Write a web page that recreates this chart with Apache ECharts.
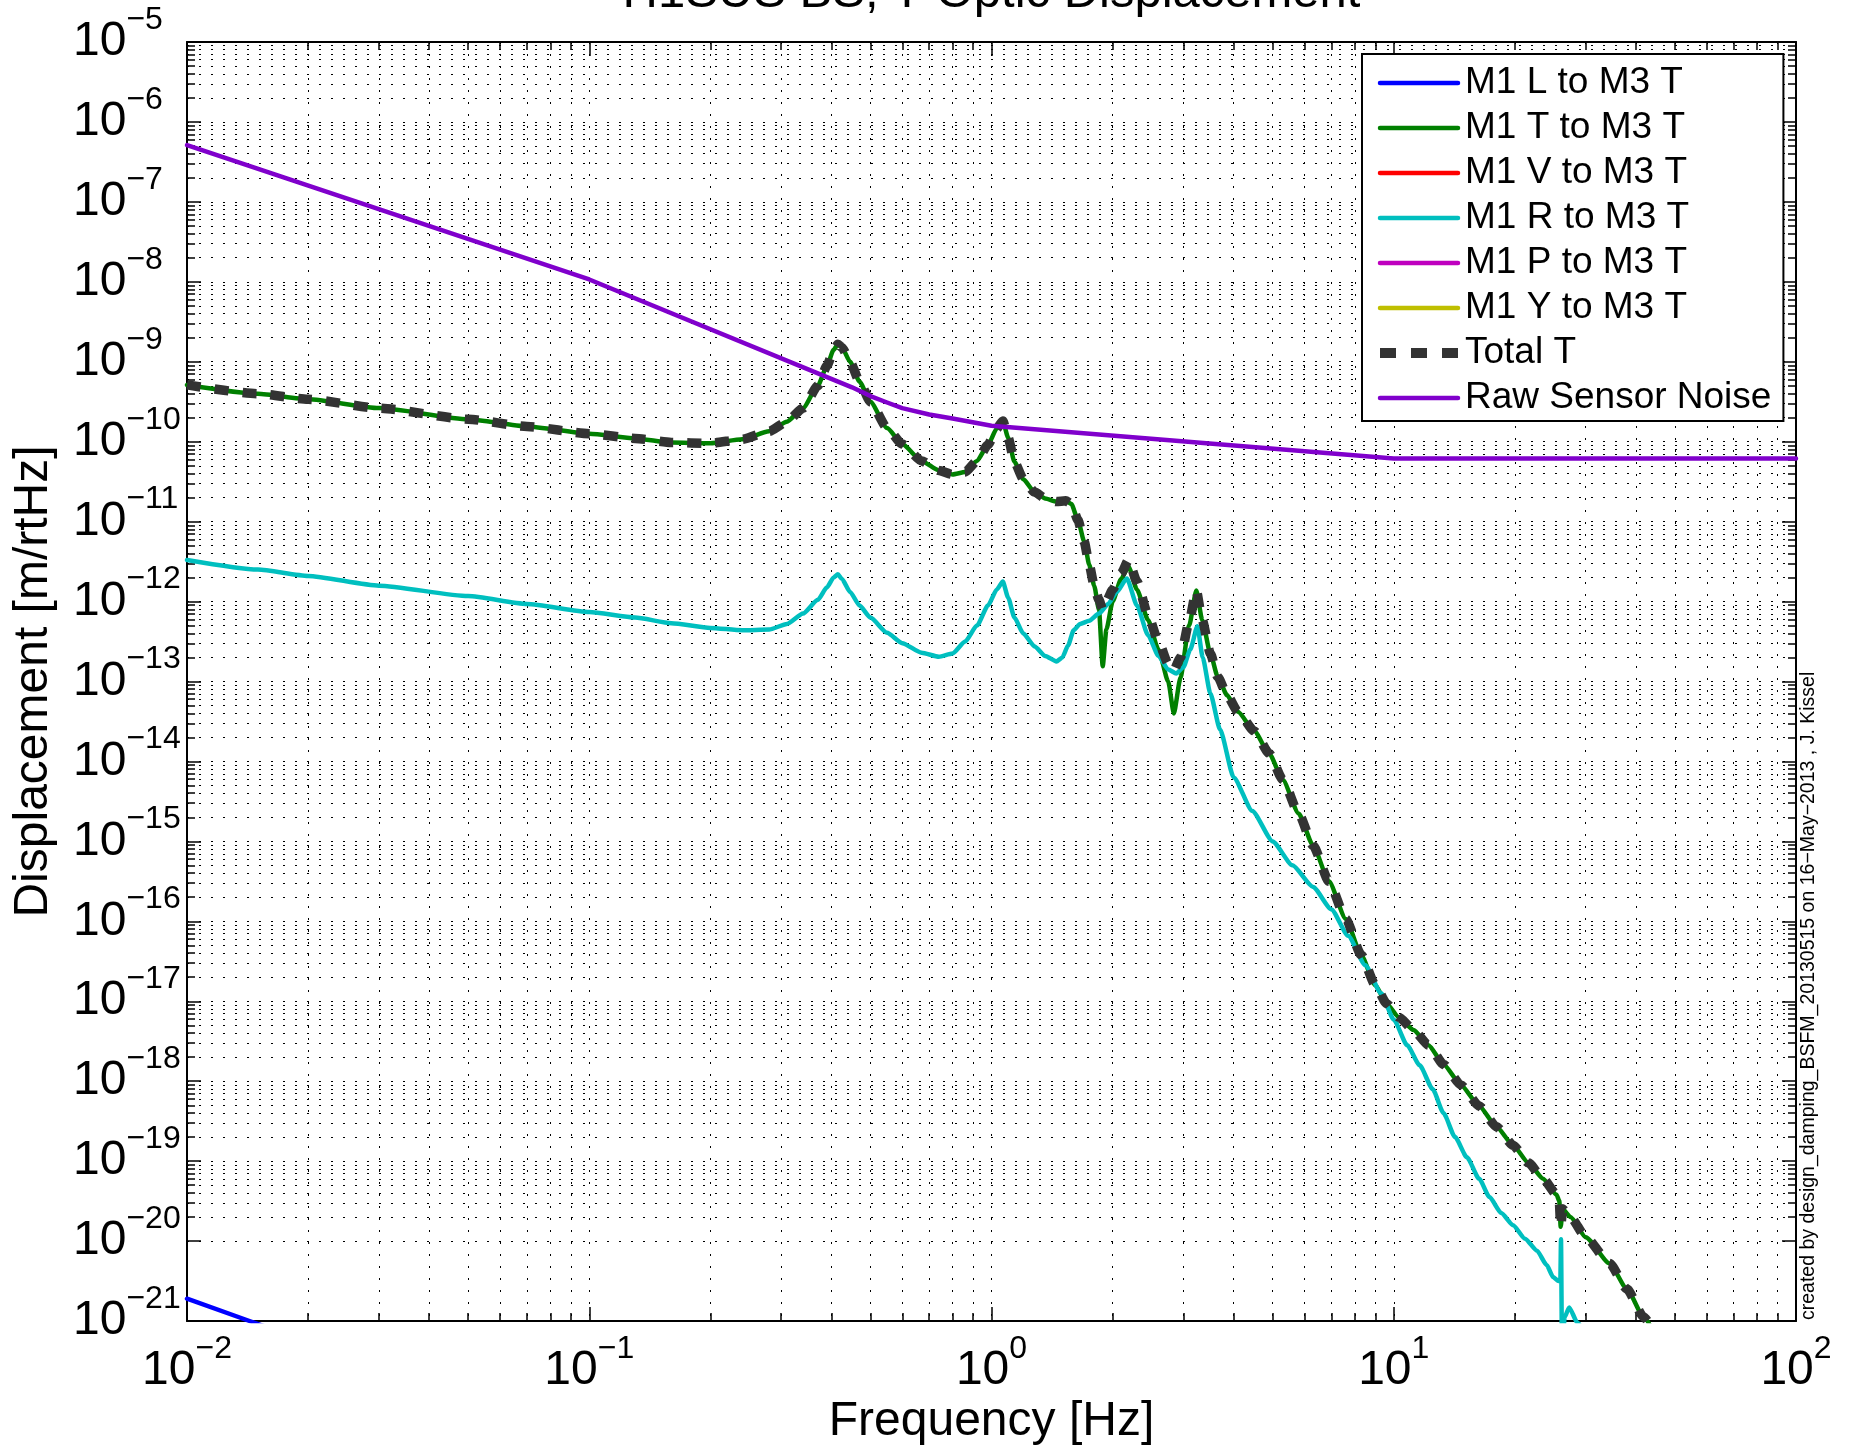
<!DOCTYPE html>
<html>
<head>
<meta charset="utf-8">
<script src="https://cdn.jsdelivr.net/npm/echarts@6/dist/echarts.min.js"></script>
<style>
  html, body { margin: 0; padding: 0; background: #fff; }
  #chart { width: 1854px; height: 1450px; }
</style>
</head>
<body>
<div id="chart"></div>
<script>
// Frequency grids [Hz] and displacement ASDs [m/rtHz]
const freqL = [0.01, 0.0143, 0.02, 0.03];
const ampL  = [1.9e-21, 1.0e-21, 5.5e-22, 2.7e-22];

const freqT = [0.01, 0.015, 0.02, 0.03, 0.05, 0.07, 0.1, 0.13, 0.16, 0.2, 0.24, 0.28, 0.31, 0.34, 0.37,
               0.39, 0.405, 0.415, 0.425, 0.445, 0.47, 0.5, 0.55, 0.6, 0.67, 0.74, 0.8, 0.86, 0.92, 0.98,
               1.03, 1.067, 1.1, 1.14, 1.2, 1.28, 1.36, 1.45, 1.53, 1.58, 1.64, 1.7, 1.75, 1.8, 1.85,
               1.89, 1.93, 2.0, 2.1, 2.19, 2.3, 2.45, 2.6, 2.75, 2.84, 2.95, 3.1, 3.23, 3.34, 3.5, 3.65,
               3.85, 4.1, 4.5, 4.9, 5.3, 5.8, 6.3, 6.9, 7.6, 8.3, 9.0, 9.6, 10.3, 11.2, 12.2, 13.3, 14.7,
               16.3, 18.0, 19.8, 21.6, 23.5, 25.4, 25.8, 26.0, 26.3, 27.5, 30, 34.4, 38, 41.8, 46];
const ampT  = [5.13e-10, 3.98e-10, 3.39e-10, 2.63e-10, 1.91e-10, 1.55e-10, 1.26e-10, 1.10e-10, 9.77e-11,
               9.55e-11, 1.07e-10, 1.35e-10, 1.78e-10, 2.63e-10, 5.01e-10, 8.91e-10, 1.41e-9, 1.66e-9,
               1.51e-9, 1.0e-9, 5.62e-10, 3.16e-10, 1.48e-10, 9.33e-11, 5.75e-11, 4.37e-11, 3.89e-11,
               4.17e-11, 5.75e-11, 9.12e-11, 1.45e-10, 1.82e-10, 1.12e-10, 5.62e-11, 3.39e-11, 2.34e-11,
               1.95e-11, 1.78e-11, 1.82e-11, 1.66e-11, 1.05e-11, 5.62e-12, 2.88e-12, 1.58e-12, 7.94e-13,
               1.55e-13, 4.47e-13, 1.0e-12, 1.91e-12, 2.75e-12, 1.41e-12, 5.89e-13, 2.51e-13, 1.0e-13,
               3.98e-14, 1.12e-13, 5.01e-13, 1.38e-12, 5.89e-13, 2.24e-13, 1.15e-13, 6.76e-14, 4.17e-14,
               2.40e-14, 1.26e-14, 5.89e-15, 2.24e-15, 8.91e-16, 3.16e-16, 1.07e-16, 3.80e-17, 1.58e-17,
               9.33e-18, 6.31e-18, 4.37e-18, 2.82e-18, 1.62e-18, 8.91e-19, 4.90e-19, 2.69e-19, 1.58e-19,
               9.55e-20, 6.03e-20, 3.80e-20, 3.16e-20, 1.51e-20, 2.51e-20, 2.0e-20, 1.12e-20, 5.25e-21,
               2.51e-21, 1.12e-21, 5.01e-22];

// Quadrature sum of all drives, on the T-drive frequency grid
const ampTotal = [5.13e-10, 3.98e-10, 3.39e-10, 2.63e-10, 1.91e-10, 1.55e-10, 1.26e-10, 1.10e-10, 9.77e-11,
                  9.55e-11, 1.07e-10, 1.35e-10, 1.78e-10, 2.63e-10, 5.01e-10, 8.91e-10, 1.41e-9, 1.66e-9,
                  1.51e-9, 1.0e-9, 5.62e-10, 3.16e-10, 1.48e-10, 9.33e-11, 5.75e-11, 4.37e-11, 3.89e-11,
                  4.17e-11, 5.75e-11, 9.12e-11, 1.45e-10, 1.82e-10, 1.12e-10, 5.62e-11, 3.39e-11, 2.34e-11,
                  1.95e-11, 1.78e-11, 1.82e-11, 1.66e-11, 1.05e-11, 5.62e-12, 2.88e-12, 1.58e-12, 1.05e-12,
                  7.94e-13, 1.0e-12, 1.41e-12, 2.24e-12, 3.31e-12, 1.78e-12, 6.76e-13, 3.16e-13, 1.66e-13,
                  1.38e-13, 2.0e-13, 5.62e-13, 1.38e-12, 5.89e-13, 2.24e-13, 1.15e-13, 6.76e-14, 4.17e-14,
                  2.40e-14, 1.26e-14, 5.89e-15, 2.24e-15, 8.91e-16, 3.16e-16, 1.07e-16, 3.80e-17, 1.58e-17,
                  9.33e-18, 6.31e-18, 4.37e-18, 2.82e-18, 1.62e-18, 8.91e-19, 4.90e-19, 2.69e-19, 1.58e-19,
                  9.55e-20, 6.03e-20, 3.80e-20, 3.16e-20, 1.51e-20, 2.51e-20, 2.0e-20, 1.12e-20, 5.25e-21,
                  2.51e-21, 1.12e-21, 5.01e-22];

const freqV = [];
const ampV  = [];

const freqR = [0.01, 0.015, 0.02, 0.03, 0.05, 0.07, 0.1, 0.13, 0.16, 0.2, 0.24, 0.28, 0.31, 0.34, 0.37,
               0.39, 0.405, 0.415, 0.425, 0.445, 0.47, 0.5, 0.55, 0.6, 0.67, 0.74, 0.8, 0.86, 0.92, 0.98,
               1.03, 1.067, 1.1, 1.14, 1.2, 1.28, 1.36, 1.45, 1.5, 1.55, 1.6, 1.66, 1.75, 1.85, 1.95,
               2.05, 2.17, 2.3, 2.45, 2.6, 2.75, 2.88, 3.0, 3.12, 3.25, 3.35, 3.5, 3.7, 4.0, 4.45, 5.0,
               5.6, 6.3, 7.0, 7.7, 8.5, 9.3, 10, 10.8, 11.6, 12.5, 13.3, 14.2, 15.2, 16.3, 17.3, 18.5,
               19.8, 21.2, 22.7, 24.0, 24.9, 25.7, 25.95, 26.05, 26.2, 26.6, 27.3, 28.6, 31];
const ampR  = [3.31e-12, 2.51e-12, 2.09e-12, 1.58e-12, 1.17e-12, 9.33e-13, 7.41e-13, 6.31e-13, 5.37e-13,
               4.68e-13, 4.37e-13, 4.47e-13, 5.25e-13, 7.08e-13, 1.05e-12, 1.51e-12, 2.0e-12, 2.19e-12,
               1.91e-12, 1.32e-12, 8.91e-13, 6.31e-13, 4.07e-13, 3.02e-13, 2.29e-13, 2.04e-13, 2.24e-13,
               3.16e-13, 5.01e-13, 8.91e-13, 1.41e-12, 1.78e-12, 1.12e-12, 6.31e-13, 3.98e-13, 2.75e-13,
               2.09e-13, 1.78e-13, 2.0e-13, 2.82e-13, 4.37e-13, 5.25e-13, 5.75e-13, 7.08e-13, 9.33e-13,
               1.32e-12, 1.95e-12, 8.91e-13, 3.80e-13, 2.09e-13, 1.41e-13, 1.26e-13, 1.51e-13, 2.51e-13,
               4.90e-13, 2.0e-13, 7.08e-14, 2.51e-14, 6.31e-15, 2.40e-15, 1.0e-15, 5.01e-16, 2.69e-16,
               1.41e-16, 6.61e-17, 2.82e-17, 1.26e-17, 5.89e-18, 2.82e-18, 1.58e-18, 7.94e-19, 3.98e-19,
               2.0e-19, 1.12e-19, 6.03e-20, 3.55e-20, 2.24e-20, 1.58e-20, 1.07e-20, 7.59e-21, 5.01e-21,
               3.55e-21, 3.16e-21, 3.16e-21, 1.05e-20, 3.98e-22, 1.12e-21, 1.48e-21, 9.55e-22, 5.01e-22];

const freqP = [];
const ampP  = [];
const freqY = [];
const ampY  = [];

const freqNoise = [0.01, 0.1, 0.45, 0.5, 0.55, 0.6, 0.7, 0.8, 1, 10, 100];
const ampNoise  = [5.13e-7, 1.07e-8, 4.79e-10, 3.72e-10, 3.09e-10, 2.63e-10, 2.19e-10, 1.95e-10, 1.58e-10,
                   6.17e-11, 6.17e-11];

const seriesNames = ['M1 L to M3 T', 'M1 T to M3 T', 'M1 V to M3 T', 'M1 R to M3 T',
                     'M1 P to M3 T', 'M1 Y to M3 T', 'Total T', 'Raw Sensor Noise'];

const freqRange = [0.01, 100];
const ampRange  = [1e-21, 1e-5];

const titleText  = 'H1SUS BS, T Optic Displacement';
const creditText = 'created by design_damping_BSFM_20130515 on 16\u2212May\u22122013 , J. Kissel';

const FONT = '"Liberation Sans", Arial, Helvetica, sans-serif';

const pairs = (f, a) => f.map((x, i) => [x, a[i]]);

// "10^n" tick labels as rich text: base centred on the tick, exponent raised
const powLabel = v => {
  const e = Math.round(Math.log10(v));
  return '{b|10}{s|' + (e < 0 ? '\u2212' + (-e) : String(e)) + '}';
};
const powRich = {
  b: { fontSize: 48, lineHeight: 76, verticalAlign: 'middle', fontFamily: FONT, color: '#000' },
  s: { fontSize: 32, lineHeight: 32, verticalAlign: 'top', fontFamily: FONT, color: '#000' }
};
const Y_LABEL_MARGIN = 114;

const gridDots = { color: '#000', width: 1, type: [2, 10] };
const boxLine = { show: true, onZero: false, lineStyle: { color: '#000', width: 2 } };
const majorTick = { show: true, inside: true, length: 14, lineStyle: { color: '#000', width: 1.5 } };
const minorTick = { show: true, splitNumber: 9, length: 8, lineStyle: { color: '#000', width: 1.5 } };

const lineSeries = (name, data, color, extra) => Object.assign({
  name, type: 'line', data, symbol: 'none', showSymbol: false,
  xAxisIndex: 0, yAxisIndex: 0, clip: true,
  lineStyle: { color, width: 4.5, cap: 'round', join: 'round' },
  itemStyle: { color }
}, extra || {});

const chart = echarts.init(document.getElementById('chart'), null, { renderer: 'canvas' });

chart.setOption({
  animation: false,
  backgroundColor: '#fff',
  textStyle: { fontFamily: FONT },
  grid: { left: 187, top: 42, width: 1609, height: 1279, containLabel: false, outerBoundsMode: 'none' },
  xAxis: [{
    type: 'log', logBase: 10, min: freqRange[0], max: freqRange[1], position: 'bottom',
    name: 'Frequency [Hz]', nameLocation: 'middle', nameGap: 77, nameMoveOverlap: false,
    nameTextStyle: { fontSize: 48, color: '#000', fontFamily: FONT },
    axisLine: boxLine, axisTick: majorTick, minorTick,
    splitLine: { show: true, lineStyle: gridDots },
    minorSplitLine: { show: true, lineStyle: gridDots },
    axisLabel: { formatter: powLabel, rich: powRich, margin: 12, align: 'center',
                 showMinLabel: true, showMaxLabel: true, hideOverlap: false }
  }, {
    type: 'log', logBase: 10, min: freqRange[0], max: freqRange[1], position: 'top',
    axisLine: boxLine, axisTick: majorTick, minorTick,
    splitLine: { show: false }, axisLabel: { show: false }
  }],
  yAxis: [{
    type: 'log', logBase: 10, min: ampRange[0], max: ampRange[1], interval: 1, splitNumber: 16, position: 'left',
    name: 'Displacement [m/rtHz]', nameLocation: 'middle', nameGap: 129, nameRotate: 90, nameMoveOverlap: false,
    nameTextStyle: { fontSize: 48, color: '#000', fontFamily: FONT },
    axisLine: boxLine, axisTick: majorTick, minorTick,
    splitLine: { show: true, lineStyle: gridDots },
    minorSplitLine: { show: true, lineStyle: gridDots },
    // the corner label is placed separately below, next to the x-axis corner label
    axisLabel: { formatter: powLabel, rich: powRich, margin: Y_LABEL_MARGIN, align: 'left',
                 showMinLabel: false, showMaxLabel: true, hideOverlap: false }
  }, {
    type: 'log', logBase: 10, min: ampRange[0], max: ampRange[1], interval: 1, splitNumber: 16, position: 'right',
    axisLine: boxLine, axisTick: majorTick, minorTick,
    splitLine: { show: false }, axisLabel: { show: false }
  }],
  legend: {
    orient: 'vertical', left: 1362, top: 54,
    padding: [9, 12, 3, 13],
    itemWidth: 78, itemHeight: 14, itemGap: 5,
    backgroundColor: '#fff', borderColor: '#000', borderWidth: 2, borderRadius: 0,
    itemStyle: { opacity: 0 },
    lineStyle: { width: 4.5 },
    textStyle: { fontSize: 37, lineHeight: 40, color: '#000', fontFamily: FONT, padding: [0, 0, 0, 2] },
    data: seriesNames.map(n => n === 'Total T'
      ? { name: n, lineStyle: { width: 10, type: [16, 15], cap: 'butt' } }
      : { name: n })
  },
  series: [
    lineSeries(seriesNames[0], pairs(freqL, ampL), '#0000FF'),
    lineSeries(seriesNames[1], pairs(freqT, ampT), '#008000', { smooth: 0.2, smoothMonotone: 'x' }),
    lineSeries(seriesNames[2], pairs(freqV, ampV), '#FF0000'),
    lineSeries(seriesNames[3], pairs(freqR, ampR), '#00BFBF', { smooth: 0.2, smoothMonotone: 'x' }),
    lineSeries(seriesNames[4], pairs(freqP, ampP), '#BF00BF'),
    lineSeries(seriesNames[5], pairs(freqY, ampY), '#BFBF00'),
    lineSeries(seriesNames[6], pairs(freqT, ampTotal), '#333333', {
      smooth: 0.2, smoothMonotone: 'x',
      lineStyle: { color: '#333333', width: 9.5, type: [14, 14], cap: 'butt', join: 'round' }
    }),
    lineSeries(seriesNames[7], pairs(freqNoise, ampNoise), '#8000CC')
  ]
});

// Title, credit line and the bottom y-axis label (10^-21), the latter positioned from the axis scale
const corner = chart.convertToPixel({ xAxisIndex: 0, yAxisIndex: 0 }, [freqRange[0], ampRange[0]]);
chart.setOption({
  graphic: [{
    id: 'title', type: 'text', x: 991.5, y: -7,
    style: { text: titleText, fill: '#000', font: '49px ' + FONT, textAlign: 'center', textVerticalAlign: 'middle' }
  }, {
    id: 'credit', type: 'text', x: 1809, y: 1320, rotation: Math.PI / 2,
    style: { text: creditText, fill: '#000', font: '19.5px ' + FONT, textAlign: 'left', textVerticalAlign: 'middle' }
  }, {
    id: 'yMinLabel', type: 'text', x: corner[0] - Y_LABEL_MARGIN, y: corner[1],
    style: {
      text: powLabel(ampRange[0]), textAlign: 'left', textVerticalAlign: 'middle',
      rich: {
        b: { fontSize: 48, lineHeight: 76, verticalAlign: 'middle', fontFamily: FONT, fill: '#000' },
        s: { fontSize: 32, lineHeight: 32, verticalAlign: 'top', fontFamily: FONT, fill: '#000' }
      }
    }
  }]
});
</script>
</body>
</html>
